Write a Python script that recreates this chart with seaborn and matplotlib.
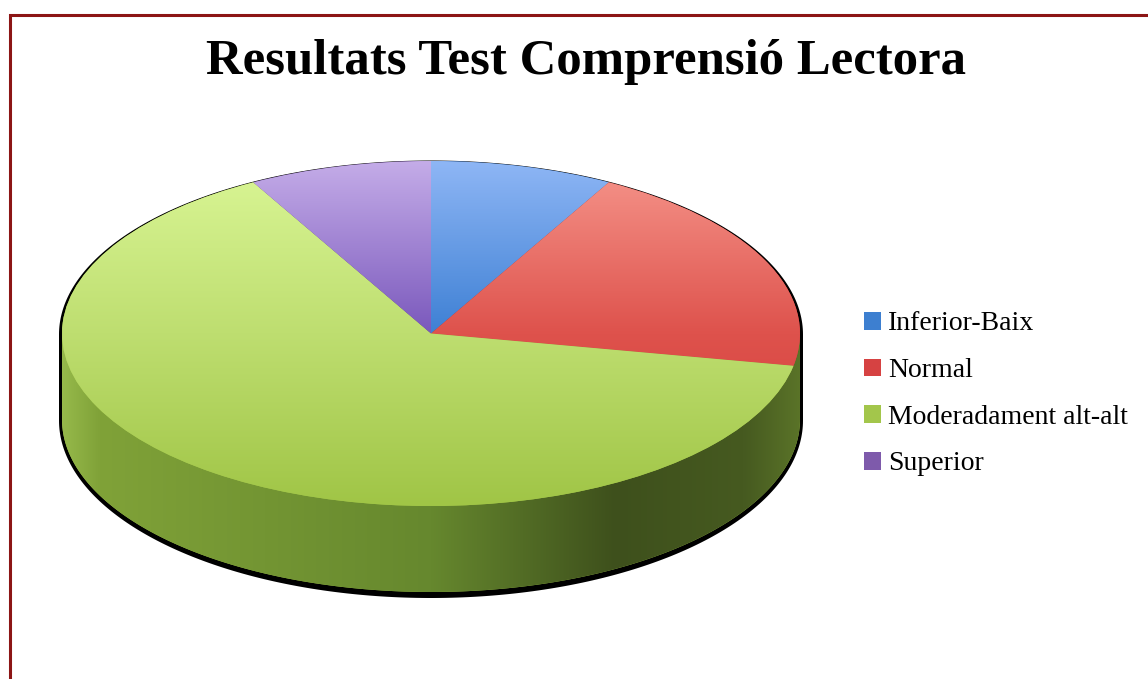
import numpy as np
import matplotlib
matplotlib.use('Agg')
import matplotlib.pyplot as plt
import seaborn as sns
from matplotlib.path import Path
from matplotlib.patches import PathPatch, Rectangle

sns.set_style('white')
plt.rcParams['font.family'] = ['Liberation Serif', 'DejaVu Serif']
plt.rcParams['text.color'] = 'black'

# data
categories = ['Inferior-Baix', 'Normal', 'Moderadament alt-alt', 'Superior']
counts = [2, 5, 16, 2]
title = 'Resultats Test Comprensió Lectora'

# styles
base_colors = ['#3d7fd0', '#d64242', '#a3c64b', '#7e5aab']
# dark (bottom) / mid / light (top) tone of each slice's top face
top_tones = [
    [(55, 115, 200), (62, 128, 212), (142, 182, 245)],
    [(210, 55, 55), (222, 82, 76), (246, 150, 140)],
    [(160, 197, 70), (190, 222, 112), (218, 246, 150)],
    [(110, 75, 175), (122, 88, 188), (196, 172, 232)],
]
side_stops = [-1, -0.9, 0, 0.5, 0.85, 1]
side_tones = [(150, 185, 75), (128, 162, 56), (102, 136, 46),
              (62, 80, 28), (70, 90, 32), (90, 115, 40)]

W, H = 1148, 679
cx, cy, rx, ry, depth = 431, 333.5, 369, 172.5, 86
h = depth / ry


def gradient(stops, tones, n=256):
    t = np.linspace(-1, 1, n)
    tones = np.array(tones) / 255
    return np.stack([np.interp(t, stops, tones[:, k]) for k in range(3)], axis=-1)


def closed(pts):
    # repeat the first vertex: with closed=True the last one is only the CLOSEPOLY marker
    return Path(np.vstack([pts, pts[:1]]), closed=True)


fig = plt.figure(figsize=(W / 100, H / 100), dpi=100)
ax = fig.add_axes([0, 0, 1, 1])

# drop shadow behind the whole cylinder
t1 = np.linspace(0, np.pi, 200)
t2 = np.linspace(np.pi, 2 * np.pi, 200)
sx, st, sb, oy = 1 + 3 / rx, 1 + 1.5 / ry, 1 + 5 / ry, -1 / ry
sil = np.concatenate([np.column_stack([sx * np.cos(t1), st * np.sin(t1) + oy]),
                      np.column_stack([sx * np.cos(t2), sb * np.sin(t2) - h + oy])])
ax.add_patch(PathPatch(closed(sil), facecolor='black', edgecolor='none', zorder=0))

# side of the cylinder
side = np.concatenate([[[-1, 0]], np.column_stack([np.cos(t2), np.sin(t2) - h]), [[1, 0]]])
side_patch = PathPatch(closed(side), facecolor=base_colors[2], edgecolor='none', zorder=1)
ax.add_patch(side_patch)
im = ax.imshow(gradient(side_stops, side_tones, 512)[None, :, :],
               extent=(-1, 1, -1 - h, 0), aspect='auto', interpolation='bilinear', zorder=2)
im.set_clip_path(side_patch)

# top face
wedges, _ = ax.pie(counts, colors=base_colors, startangle=90, counterclock=False,
                   radius=1, center=(0, 0), wedgeprops=dict(linewidth=0, zorder=3))
for w, tones in zip(wedges, top_tones):
    g = gradient([-1, 0, 1], tones)[:, None, :]
    gi = ax.imshow(g, extent=(-1, 1, -1, 1), origin='lower', aspect='auto',
                   interpolation='bilinear', zorder=4)
    gi.set_clip_path(w)

ax.set_xlim(-cx / rx, (W - cx) / rx)
ax.set_ylim((cy - H) / ry, cy / ry)
ax.set_aspect('auto')
ax.axis('off')

fig.text(586 / W, 1 - 62 / H, title, ha='center', va='center',
         fontsize=36.5, fontweight='bold', color='black')

fig.legend(wedges, categories, loc='upper left', bbox_to_anchor=(864 / W, 1 - 311.5 / H),
           frameon=False, fontsize=20, handlelength=0.6, handleheight=0.6,
           handletextpad=0.28, labelspacing=0.78, borderpad=0, borderaxespad=0,
           labelcolor='black')

# dark red frame, cut by the right and bottom edges
fig.patches.append(Rectangle((9.5 / W, -0.1), 1.2, 1.1 - 15.5 / H, transform=fig.transFigure,
                             fill=False, edgecolor='#8c1515', linewidth=2.2))

fig.savefig('out.png', dpi=100)
